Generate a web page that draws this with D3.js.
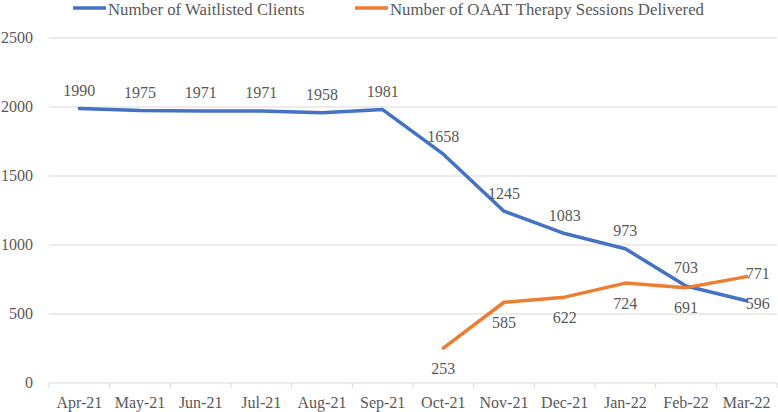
<!DOCTYPE html>
<html><head><meta charset="utf-8">
<script src="https://cdn.jsdelivr.net/npm/d3@7"></script>
</head>
<body style="margin:0;background:#fff;font-family:'Liberation Serif'">
<svg id="c" width="778" height="412" font-family="Liberation Serif" style="font-family:'Liberation Serif'"></svg>
<script>
const months = ["Apr-21","May-21","Jun-21","Jul-21","Aug-21","Sep-21","Oct-21","Nov-21","Dec-21","Jan-22","Feb-22","Mar-22"];
const waitlisted = [1990,1975,1971,1971,1958,1981,1658,1245,1083,973,703,596];
const sessions = [null,null,null,null,null,null,253,585,622,724,691,771];
const waitLabelPos = ["above","above","above","above","above","above","above","above","above","above","above","right"];
const sessLabelPos = [null,null,null,null,null,null,"below","below","below","below","below","rightUp"];
const yTicks = [0,500,1000,1500,2000,2500];
const seriesNames = ["Number of Waitlisted Clients","Number of OAAT Therapy Sessions Delivered"];
const colors = ["#4472C4","#ED7D31"];
const TXT = "#595959";

const svg = d3.select("#c");
const m = {left:49, right:1};
const W = 778;
const x = d3.scaleBand().domain(months).range([m.left, W - m.right]);
const y = d3.scaleLinear().domain([0,2500]).range([383, 38]);
const cx = d => x(d) + x.bandwidth()/2;

function txt(sel, size) {
  return sel.attr("font-family", "Liberation Serif")
    .style("font-family", "'Liberation Serif'")
    .attr("font-size", size || 16).attr("fill", TXT);
}

svg.append("g").selectAll("line").data(yTicks).join("line")
  .attr("x1", m.left).attr("x2", W - m.right)
  .attr("y1", d => y(d)).attr("y2", d => y(d))
  .attr("stroke", "#d9d9d9").attr("stroke-width", 1);

txt(svg.selectAll("text.ylab").data(yTicks).join("text").attr("class", "ylab"))
  .attr("x", 33).attr("y", d => y(d)).attr("dy", "0.34em")
  .attr("text-anchor", "end").text(d => d);

const bounds = months.map(d => x(d)).concat([W - m.right]);
svg.append("g").selectAll("line").data(bounds).join("line")
  .attr("x1", d => d).attr("x2", d => d).attr("y1", y(0)).attr("y2", y(0) + 5)
  .attr("stroke", "#d9d9d9");

txt(svg.selectAll("text.xlab").data(months).join("text").attr("class", "xlab"))
  .attr("x", d => cx(d)).attr("y", 407.5)
  .attr("text-anchor", "middle").text(d => d);

const line = d3.line().defined(d => d.v != null).x(d => cx(d.m)).y(d => y(d.v));
[waitlisted, sessions].forEach((s, i) => {
  const data = months.map((mm, j) => ({m: mm, v: s[j]}));
  svg.append("path").datum(data).attr("d", line)
    .attr("fill", "none").attr("stroke", colors[i]).attr("stroke-width", 3.5)
    .attr("stroke-linejoin", "round").attr("stroke-linecap", "round");
});

function addLabels(vals, pos, cls) {
  const data = months.map((mm, j) => ({m: mm, v: vals[j], p: pos[j]})).filter(d => d.v != null);
  txt(svg.selectAll("text." + cls).data(data).join("text").attr("class", cls))
    .attr("x", d => d.p.startsWith("right") ? cx(d.m) - 1 : cx(d.m))
    .attr("y", d => {
      const py = y(d.v);
      if (d.p === "above") return py - 18;
      if (d.p === "below") return py + 20;
      if (d.p === "right") return py + 3;
      return py - 3;
    })
    .attr("dy", "0.34em")
    .attr("text-anchor", d => d.p.startsWith("right") ? "start" : "middle")
    .text(d => d.v);
}
addLabels(waitlisted, waitLabelPos, "wl");
addLabels(sessions, sessLabelPos, "sl");

const legX = [73, 355];
seriesNames.forEach((n, i) => {
  svg.append("line").attr("x1", legX[i]).attr("x2", legX[i] + 33)
    .attr("y1", 8).attr("y2", 8).attr("stroke", colors[i]).attr("stroke-width", 3.5);
  txt(svg.append("text"), 16.8).attr("x", legX[i] + 35).attr("y", 15).text(n);
});
</script>
</body></html>
